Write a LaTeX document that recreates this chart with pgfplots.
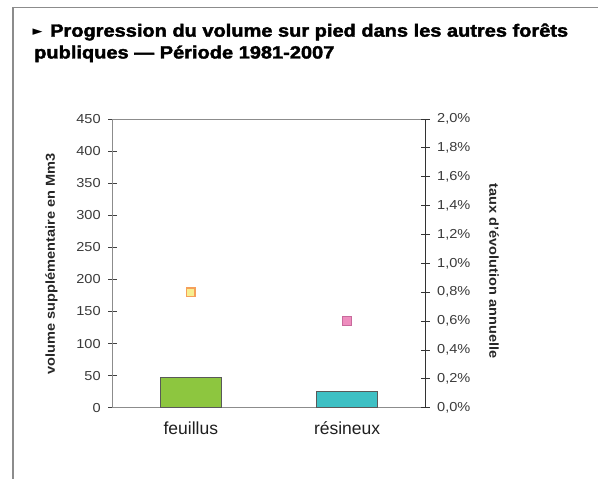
\documentclass[border=0pt]{standalone}
\usepackage{fontspec}
\setmainfont{Liberation Sans}
\newfontfamily\dejavu{DejaVu Sans}
\newfontfamily\titlefont[FakeBold=2]{Liberation Sans Bold}
\usepackage{graphicx}
\usepackage{pgfplots}
\pgfplotsset{compat=1.18}
\definecolor{feu}{HTML}{8DC63F}
\definecolor{res}{HTML}{3EC0C4}
\definecolor{yel}{HTML}{F7EE90}
\definecolor{ora}{HTML}{F5A05A}
\definecolor{pinkf}{HTML}{EE8DBE}
\definecolor{pinkd}{HTML}{C86A9C}
\definecolor{axgray}{HTML}{8C8C8C}
\definecolor{lab}{HTML}{3A3A3A}
\begin{document}
\begin{tikzpicture}[x=1pt,y=1pt]
\path[use as bounding box] (0,0) rectangle (598,479);
\draw[black!45, line width=1.6pt] (12.7,0) -- (12.7,471.5) -- (598,471.5);
\node[anchor=west, inner sep=0] at (32.5,447) {\dejavu\fontsize{13}{13}\selectfont ►};
\node[anchor=base west, inner sep=0] at (50,442.3) {\fontsize{17.7}{18}\titlefont\selectfont\scalebox{1.13}[1]{Progression du volume sur pied dans les autres forêts}};
\node[anchor=base west, inner sep=0] at (34,420.5) {\fontsize{17.7}{18}\titlefont\selectfont\scalebox{1.13}[1]{publiques — Période 1981-2007}};

\begin{axis}[
  at={(112.7pt,71.3pt)}, anchor=south west,
  width=312.5pt, height=288.7pt, scale only axis,
  xmin=-0.5, xmax=1.5, ymin=0, ymax=450,
  axis line style={draw=axgray, line width=0.9pt},
  ytick={0,50,100,150,200,250,300,350,400,450},
  ytick pos=left,
  tick align=center,
  major tick length=9pt,
  major tick style={draw=black!75, line width=0.8pt},
  yticklabel={\scalebox{1.12}[1]{\pgfmathprintnumber[assume math mode=true]{\tick}}},
  y tick label style={font=\fontsize{13}{13}\selectfont, text=lab, xshift=-4pt},
  xtick={0,1},
  xticklabels={feuillus,résineux},
  xtick pos=bottom,
  x tick label style={font=\fontsize{17.5}{18}\selectfont, text=black!88, yshift=-6pt},
  x tick style={draw=none},
  extra x ticks={-0.5,0.5,1.5},
  extra x tick labels={},
  extra x tick style={major tick style={draw=axgray, line width=0.9pt}, major tick length=10pt, tick align=center},
  ylabel={\scalebox{1.12}[1]{volume supplémentaire en Mm3}},
  ylabel style={font=\fontsize{13}{13}\selectfont\bfseries, text=black!85, at={(axis description cs:-0.196,0.498)}, anchor=center, rotate=0},
]
\addplot[ybar, bar width=61pt, bar shift=0pt, fill=feu, draw=black!65, line width=0.9pt] coordinates {(0,47)};
\addplot[ybar, bar width=61pt, bar shift=0pt, fill=res, draw=black!65, line width=0.9pt] coordinates {(1,25)};
\end{axis}

\begin{axis}[
  at={(112.7pt,71.3pt)}, anchor=south west,
  width=312.5pt, height=288.7pt, scale only axis,
  xmin=-0.5, xmax=1.5, ymin=0, ymax=2,
  axis x line=none,
  axis y line*=right,
  axis line style={draw=black!80, line width=0.9pt, -},
  ytick={0,0.2,0.4,0.6,0.8,1.0,1.2,1.4,1.6,1.8,2.0},
  tick align=center,
  major tick length=9pt,
  major tick style={draw=black!80, line width=0.8pt},
  yticklabel={\scalebox{1.12}[1]{\pgfmathprintnumber[fixed,fixed zerofill,precision=1,use comma,assume math mode=true]{\tick}\%}},
  y tick label style={font=\fontsize{13}{13}\selectfont, text=lab, xshift=4pt},
  ylabel={\scalebox{1.12}[1]{taux d'évolution annuelle}},
  ylabel style={font=\fontsize{13}{13}\selectfont\bfseries, text=black!85, at={(axis description cs:1.22,0.473)}, anchor=center, rotate=180},
]
\addplot[only marks, mark=square*, mark size=4.2pt, mark options={fill=yel, draw=ora, line width=1.2pt}] coordinates {(0,0.8)};
\addplot[only marks, mark=square*, mark size=4.3pt, mark options={fill=pinkf, draw=pinkd, line width=0.9pt}] coordinates {(1,0.6)};
\end{axis}
\end{tikzpicture}
\end{document}
